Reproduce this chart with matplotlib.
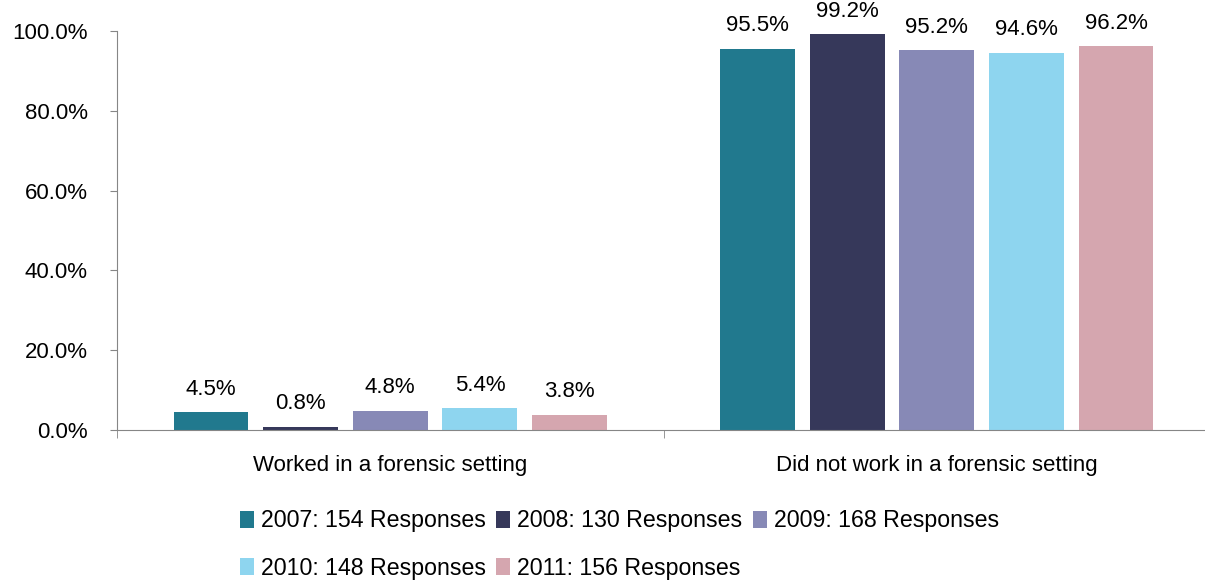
import matplotlib
matplotlib.use("Agg")
import matplotlib.pyplot as plt
import numpy as np
from matplotlib.patches import Patch

categories = ["Worked in a forensic setting", "Did not work in a forensic setting"]
years = ["2007: 154 Responses", "2008: 130 Responses", "2009: 168 Responses",
         "2010: 148 Responses", "2011: 156 Responses"]
values = {
    "2007": [4.5, 95.5],
    "2008": [0.8, 99.2],
    "2009": [4.8, 95.2],
    "2010": [5.4, 94.6],
    "2011": [3.8, 96.2],
}
colors = ["#21798E", "#36385A", "#8789B6", "#8ED5EF", "#D5A6AF"]

plt.rcParams['font.family'] = ['Liberation Sans', 'DejaVu Sans']
fs = 16

fig = plt.figure(figsize=(12.05, 5.8), dpi=100)
ax = fig.add_axes([117 / 1205, 1 - 430 / 580, (1210 - 117) / 1205, 399 / 580])

x = np.arange(len(categories))
width = 0.137
step = 0.164
for i, (key, vals) in enumerate(values.items()):
    pos = x + (i - 2) * step
    ax.bar(pos, vals, width=width, color=colors[i], zorder=2)
    for p, v in zip(pos, vals):
        ax.annotate(f"{v:.1f}%", (p, v), xytext=(0, 9), textcoords="offset points",
                    ha="center", va="bottom", fontsize=fs, color="#000000",
                    annotation_clip=False)

ax.set_xlim(-0.5, 1.5)
ax.set_ylim(0, 100)
ax.set_yticks([0, 20, 40, 60, 80, 100])
ax.set_yticklabels([f"{t:.1f}%" for t in [0, 20, 40, 60, 80, 100]], fontsize=fs)
ax.set_xticks(x)
ax.set_xticklabels(categories, fontsize=fs)
ax.tick_params(axis="x", length=0, pad=18)
ax.set_xticks([-0.5, 0.5, 1.5], minor=True)
ax.tick_params(axis="x", which="minor", length=6, color="#868686")
ax.tick_params(axis="y", length=5, color="#868686", pad=16)

for side in ["top", "right"]:
    ax.spines[side].set_visible(False)
for side in ["left", "bottom"]:
    ax.spines[side].set_color("#868686")

handles = [Patch(facecolor=c, edgecolor="none") for c in colors]
leg_kw = dict(frameon=False, fontsize=16.7, handlelength=0.6, handleheight=0.75,
              handletextpad=0.3, columnspacing=0.45, borderpad=0, borderaxespad=0)
leg1 = fig.legend(handles[:3], years[:3], ncol=3, loc="center left",
                  bbox_to_anchor=(240 / 1205, 1 - 521 / 580), **leg_kw)
leg2 = fig.legend(handles[3:], years[3:], ncol=2, loc="center left",
                  bbox_to_anchor=(240 / 1205, 1 - 568 / 580), **leg_kw)

fig.savefig("out.png", dpi=100)
